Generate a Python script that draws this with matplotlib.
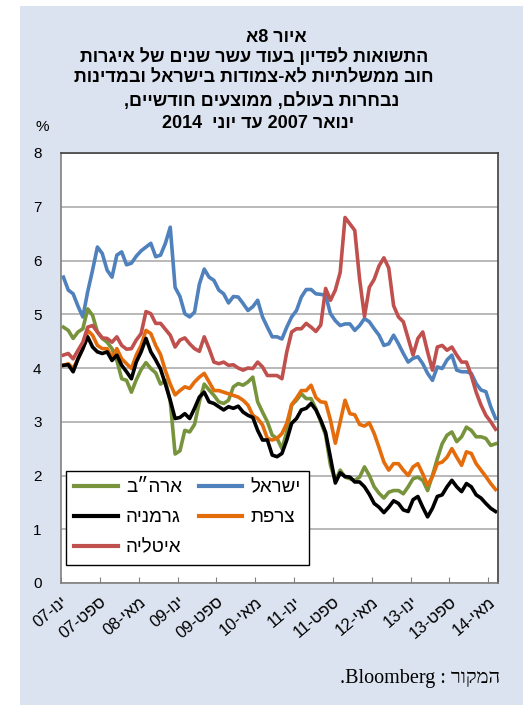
import re

import numpy as np
import matplotlib
matplotlib.use("Agg")
from matplotlib import pyplot as plt
from matplotlib.patches import Rectangle


def rtl(text):
    # matplotlib does no bidi, so Hebrew is reversed by hand (numbers / latin kept LTR)
    out = text[::-1]
    return re.sub(r'[A-Za-z0-9]+', lambda m: m.group(0)[::-1], out)


# ten-year yields, two-month averages, Jan 2007 - Jun 2014 (monthly)
israel = [5.69, 5.45, 5.38, 5.15, 4.95, 5.42, 5.82, 6.25, 6.13, 5.82,
          5.69, 6.10, 6.16, 5.92, 5.95, 6.08, 6.18, 6.25, 6.32, 6.07,
          6.10, 6.32, 6.62, 5.50, 5.33, 5.01, 4.95, 5.04, 5.56, 5.84,
          5.69, 5.63, 5.45, 5.38, 5.21, 5.33, 5.32, 5.20, 5.07, 5.14,
          5.26, 4.95, 4.76, 4.58, 4.58, 4.54, 4.76, 4.95, 5.07, 5.32,
          5.46, 5.46, 5.38, 5.37, 5.35, 5.01, 4.88, 4.79, 4.82, 4.82,
          4.70, 4.79, 4.92, 4.86, 4.73, 4.61, 4.42, 4.45, 4.61, 4.45,
          4.27, 4.11, 4.18, 4.21, 4.08, 3.90, 3.77, 4.02, 3.99, 4.15,
          4.24, 3.96, 3.93, 3.93, 3.90, 3.71, 3.59, 3.56, 3.28, 3.06]
usa = [4.76, 4.70, 4.55, 4.67, 4.73, 5.10, 4.98, 4.67, 4.55, 4.48,
       4.36, 4.14, 3.80, 3.77, 3.55, 3.78, 3.97, 4.10, 3.99, 3.91,
       3.70, 3.77, 3.38, 2.40, 2.46, 2.84, 2.81, 2.95, 3.37, 3.70,
       3.59, 3.49, 3.37, 3.34, 3.40, 3.65, 3.71, 3.68, 3.74, 3.83,
       3.37, 3.18, 3.00, 2.75, 2.69, 2.50, 2.81, 3.31, 3.40, 3.52,
       3.43, 3.43, 3.24, 3.00, 2.75, 2.19, 1.90, 2.10, 1.97, 1.94,
       1.91, 1.97, 2.16, 2.00, 1.79, 1.67, 1.58, 1.69, 1.72, 1.72,
       1.66, 1.79, 1.94, 1.97, 1.91, 1.72, 2.00, 2.31, 2.59, 2.75,
       2.81, 2.63, 2.72, 2.90, 2.84, 2.72, 2.72, 2.69, 2.56, 2.59]
france = [4.05, 4.08, 3.99, 4.17, 4.36, 4.70, 4.61, 4.42, 4.36, 4.36,
          4.20, 4.36, 4.17, 4.08, 3.99, 4.24, 4.42, 4.70, 4.64, 4.42,
          4.25, 3.95, 3.70, 3.50, 3.58, 3.65, 3.62, 3.74, 3.83, 3.90,
          3.74, 3.58, 3.58, 3.55, 3.52, 3.49, 3.46, 3.40, 3.31, 3.12,
          3.06, 2.94, 2.69, 2.66, 2.69, 2.78, 2.97, 3.32, 3.44, 3.58,
          3.58, 3.68, 3.45, 3.37, 3.36, 3.03, 2.60, 3.00, 3.40, 3.15,
          3.13, 2.95, 2.92, 2.98, 2.78, 2.52, 2.25, 2.10, 2.22, 2.22,
          2.10, 2.00, 2.16, 2.22, 2.03, 1.82, 1.98, 2.22, 2.25, 2.34,
          2.50, 2.34, 2.19, 2.44, 2.41, 2.22, 2.10, 1.98, 1.85, 1.74]
germany = [4.05, 4.06, 3.93, 4.17, 4.36, 4.58, 4.39, 4.30, 4.27, 4.30,
           4.14, 4.24, 4.05, 3.93, 3.80, 4.11, 4.30, 4.55, 4.30, 4.15,
           3.98, 3.70, 3.40, 3.06, 3.08, 3.15, 3.06, 3.25, 3.46, 3.55,
           3.37, 3.34, 3.28, 3.22, 3.28, 3.25, 3.29, 3.18, 3.12, 3.08,
           2.84, 2.66, 2.66, 2.38, 2.35, 2.41, 2.66, 2.97, 3.06, 3.22,
           3.25, 3.34, 3.22, 3.03, 2.80, 2.33, 1.86, 2.05, 1.98, 1.97,
           1.88, 1.88, 1.79, 1.65, 1.48, 1.41, 1.31, 1.41, 1.53, 1.48,
           1.36, 1.33, 1.55, 1.61, 1.41, 1.23, 1.39, 1.61, 1.64, 1.79,
           1.91, 1.79, 1.70, 1.85, 1.79, 1.64, 1.58, 1.48, 1.39, 1.33]
italy = [4.24, 4.27, 4.17, 4.33, 4.48, 4.76, 4.79, 4.67, 4.56, 4.55,
         4.48, 4.58, 4.42, 4.35, 4.36, 4.52, 4.64, 5.05, 5.01, 4.83,
         4.83, 4.72, 4.61, 4.39, 4.52, 4.56, 4.45, 4.36, 4.31, 4.58,
         4.36, 4.11, 4.08, 4.11, 4.05, 4.06, 4.00, 3.96, 4.00, 3.99,
         4.11, 4.02, 3.86, 3.86, 3.86, 3.80, 4.30, 4.67, 4.73, 4.73,
         4.83, 4.76, 4.68, 4.80, 5.48, 5.26, 5.45, 5.78, 6.80, 6.68,
         6.56, 5.65, 4.96, 5.50, 5.65, 5.90, 6.05, 5.86, 5.16, 4.95,
         4.86, 4.55, 4.24, 4.55, 4.67, 4.30, 3.96, 4.39, 4.42, 4.33,
         4.39, 4.24, 4.11, 4.11, 3.86, 3.55, 3.31, 3.12, 3.00, 2.86]

tick_labels = ['ינו-07', 'ספט-07', 'מאי-08', 'ינו-09', 'ספט-09', 'מאי-10',
               'ינו-11', 'ספט-11', 'מאי-12', 'ינו-13', 'ספט-13', 'מאי-14']

title_lines = ['איור 8א',
               'התשואות לפדיון בעוד עשר שנים של איגרות',
               'חוב ממשלתיות לא-צמודות בישראל ובמדינות',
               'נבחרות בעולם, ממוצעים חודשיים,',
               'ינואר 2007 עד יוני  2014']

sans = ['Liberation Sans', 'DejaVu Sans']
plt.rcParams['font.family'] = sans

W, H = 523, 705
fig = plt.figure(figsize=(W / 100, H / 100), dpi=100)
fig.patches.append(Rectangle((20 / W, 0), 1, 699 / H, transform=fig.transFigure,
                             facecolor='#dce3f0', edgecolor='none', zorder=-5))

ax = fig.add_axes([61 / W, 1 - 583 / H, 437 / W, 430 / H])
x = np.arange(len(israel))

l_isr, = ax.plot(x, israel, color='#4f81bd', lw=2.6, label=rtl('ישראל'))
l_usa, = ax.plot(x, usa, color='#77933c', lw=2.6, label=rtl('ארה״ב'))
l_fra, = ax.plot(x, france, color='#e46c0a', lw=2.6, label=rtl('צרפת'))
l_ger, = ax.plot(x, germany, color='black', lw=2.6, label=rtl('גרמניה'))
l_ita, = ax.plot(x, italy, color='#c0504d', lw=2.6, label=rtl('איטליה'))

ax.set_xlim(-0.5, len(israel) - 0.5)
ax.set_ylim(0, 8)
ax.set_yticks(range(0, 9))
ax.grid(axis='y', color='#a6a6a6', lw=1.1)
ax.set_axisbelow(True)

ax.set_xticks(np.arange(len(tick_labels)) * 8 - 0.5)
ax.set_xticklabels([rtl(t) for t in tick_labels], rotation=40, ha='right',
                   va='top', rotation_mode='anchor', fontsize=12)
ax.tick_params(axis='x', direction='in', length=4, color='#808080', pad=8)
ax.tick_params(axis='y', length=0, pad=14, labelsize=11)

for side in ['left', 'bottom']:
    ax.spines[side].set_color('#808080')
    ax.spines[side].set_linewidth(1.2)
for side in ['top', 'right']:
    ax.spines[side].set_color('#404040')
    ax.spines[side].set_linewidth(1.2)

order = [l_usa, l_ger, l_ita, l_isr, l_fra]
leg = ax.legend(order, [l.get_label() for l in order],
                ncol=2, loc='lower left', bbox_to_anchor=(66 / W, 140 / H),
                bbox_transform=fig.transFigure, fontsize=13.5, frameon=True,
                fancybox=False, edgecolor='black', framealpha=1,
                handlelength=2.3, handletextpad=0.45, columnspacing=0.9,
                labelspacing=0.7, borderpad=0.45, borderaxespad=0)
leg.get_frame().set_linewidth(1.0)
for line in leg.get_lines():
    line.set_linewidth(3)

title_x = [276, 254, 254, 262, 258]
title_y = [37, 57, 78, 101, 124]
for line, tx, ty in zip(title_lines, title_x, title_y):
    fig.text(tx / W, 1 - ty / H, rtl(line), ha='center', va='center',
             fontsize=13, fontweight='bold')

fig.text(42 / W, 1 - 127 / H, '%', ha='center', va='center', fontsize=11)
fig.text(500 / W, 1 - 678 / H, rtl('המקור : Bloomberg.'), ha='right', va='center',
         fontsize=14.5, family=['Liberation Serif', 'DejaVu Serif', 'DejaVu Sans'])

fig.savefig('out.png', dpi=100)
